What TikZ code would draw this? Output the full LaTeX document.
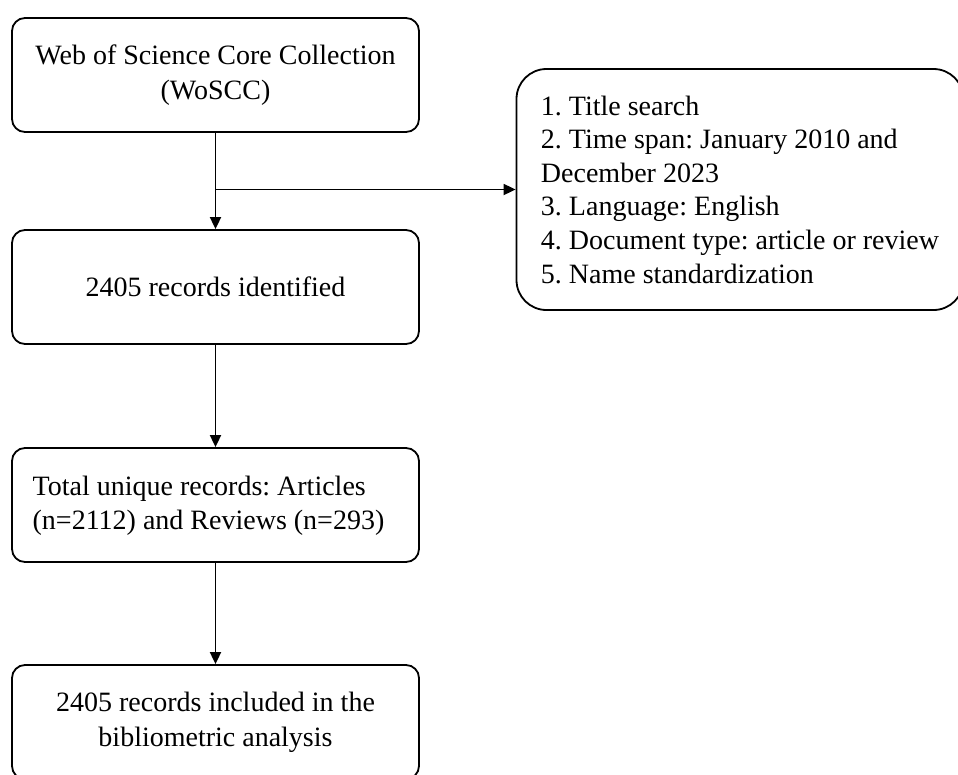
\documentclass[tikz,border=0pt]{standalone}
\usepackage{fontspec}
\setmainfont{Liberation Serif}
\usetikzlibrary{arrows.meta}
\frenchspacing
\begin{document}
\begin{tikzpicture}[x=1pt,y=-1pt,
  box/.style={draw, line width=1.8pt, rounded corners=13pt, inner sep=0pt,
    minimum width=407pt, minimum height=114pt, align=center,
    font=\fontsize{28}{35}\selectfont},
  critbox/.style={draw, line width=1.8pt, rounded corners=30pt, inner sep=0pt,
    minimum width=447pt, minimum height=241pt, align=left,
    font=\fontsize{28}{33.6}\selectfont},
  arr/.style={line width=1.8pt, -{Triangle[length=12pt,width=11pt]}}]
\useasboundingbox (0,0) rectangle (958,774);
\clip (0,0) rectangle (958,774);
\node[box] (b1) at (215.5,75) {Web of Science Core Collection\\(WoSCC)};
\node[box] (b2) at (215.5,287) {2405 records identified};
\node[box] (b3) at (215.5,505) {\begin{tabular}{@{}l@{}}Total unique records: Articles\\[-1pt](n=2112) and Reviews (n=293)\end{tabular}\hspace{14pt}};
\node[box] (b4) at (215.5,722) {2405 records included in the\\bibliometric analysis};
\node[critbox] (rb) at (740,189.5) {1. Title search\\2. Time span: January 2010 and\\December 2023\\3. Language: English\\4. Document type: article or review\\5. Name standardization};
\coordinate (j) at (b1.south |- rb.west);
\draw[arr] (b1) -- (b2);
\draw[arr] (j) -- (rb.west);
\draw[arr] (b2) -- (b3);
\draw[arr] (b3) -- (b4);
\end{tikzpicture}
\end{document}
